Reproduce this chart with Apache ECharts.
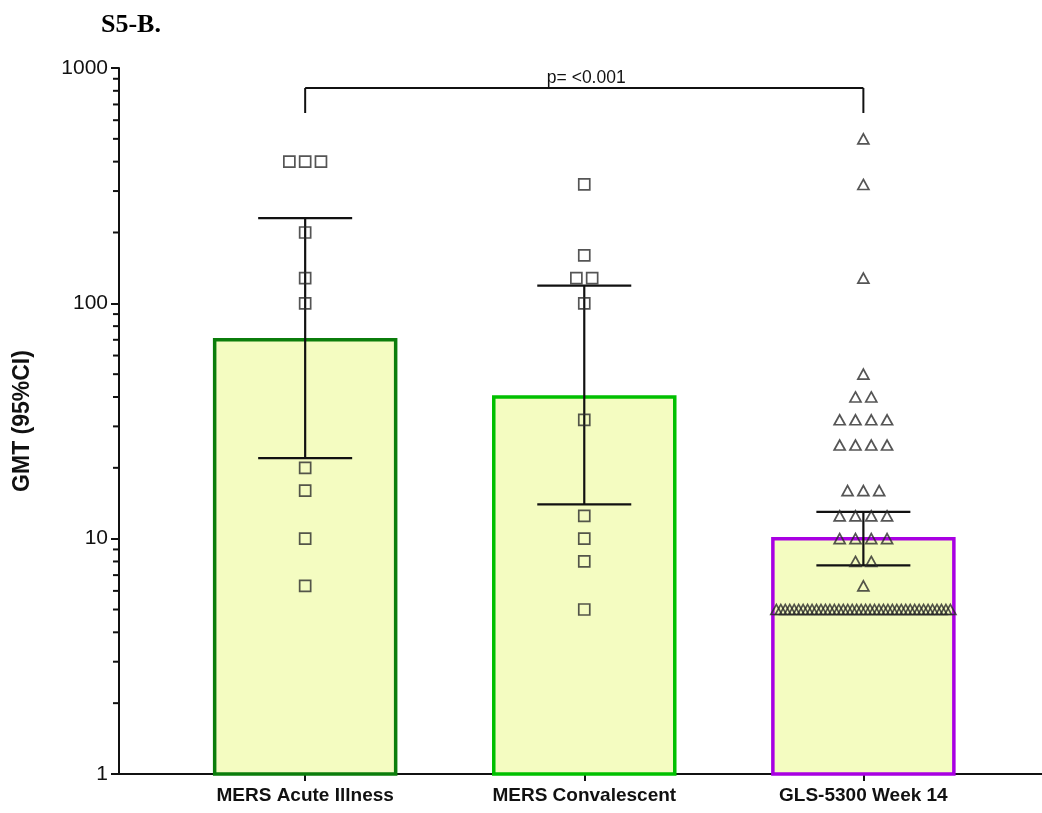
<!DOCTYPE html>
<html>
<head>
<meta charset="utf-8">
<title>S5-B. GMT (95%CI)</title>
<script src="https://cdn.jsdelivr.net/npm/echarts@6/dist/echarts.min.js"></script>
<style>
  html, body { margin: 0; padding: 0; background: #fff; }
  #chart { width: 1042px; height: 813px; }
</style>
</head>
<body>
<div id="chart"></div>
<script>
// Groups on the x axis
const categories = ['MERS Acute Illness', 'MERS Convalescent', 'GLS-5300 Week 14'];

// Geometric mean titres (bar heights) and their 95% confidence limits
const gmt = [70, 40, 10];
const ciLow = [22, 14, 7.7];
const ciHigh = [230, 119, 13];

// Individual titres per group
const acuteValues = [400, 400, 400, 200, 128, 100, 20, 16, 10, 6.3];
const convalescentValues = [320, 160, 128, 128, 100, 32, 12.5, 10, 8, 5];
const week14Values = [
  500, 320, 128, 50, 40, 40,
  32, 32, 32, 32,
  25, 25, 25, 25,
  16, 16, 16,
  12.5, 12.5, 12.5, 12.5,
  10, 10, 10, 10,
  8, 8,
  6.3,
  5, 5, 5, 5, 5, 5, 5, 5, 5, 5,
  5, 5, 5, 5, 5, 5, 5, 5, 5, 5,
  5, 5, 5, 5, 5, 5, 5, 5, 5, 5,
  5, 5, 5, 5, 5, 5, 5, 5, 5, 5
];

// Log axis tick labels and comparison annotation
const yTickLabels = ['1', '10', '100', '1000'];
const pValueText = 'p= <0.001';

const barBorderColors = ['#0b7d0b', '#00c000', '#a800e2'];
const barFill = '#f4fcc1';
const ink = '#111111';
const sansFont = '"Liberation Sans", Arial, Helvetica, sans-serif';

// Spread points sharing the same value side by side, like a column scatter
function spreadPoints(values, groupPos, symbol, size) {
  const counts = {};
  values.forEach(v => { counts[v] = (counts[v] || 0) + 1; });
  const seen = {};
  return values.map(v => {
    const n = counts[v];
    const i = seen[v] = (seen[v] === undefined ? 0 : seen[v] + 1);
    const step = n > 1 ? Math.min(15.8, 174 / (n - 1)) : 0;
    return {
      value: [groupPos, v],
      symbol: symbol,
      symbolSize: size,
      symbolOffset: [(i - (n - 1) / 2) * step, 0]
    };
  });
}

const pointData = []
  .concat(spreadPoints(acuteValues, 1, 'rect', 11))
  .concat(spreadPoints(convalescentValues, 2, 'rect', 11))
  .concat(spreadPoints(week14Values, 3, 'triangle', [11, 10]));

// Minor ticks of the log axis: 2..9 within each decade
const minorTickValues = [];
[1, 10, 100].forEach(d => {
  for (let m = 2; m <= 9; m++) minorTickValues.push(m * d);
});

const X_MIN = 0.333;
const X_MAX = 3.64;
const BAR_WIDTH = 181;
const CAP_HALF = 47;

const chart = echarts.init(document.getElementById('chart'), null, { renderer: 'canvas' });

const option = {
  backgroundColor: '#ffffff',
  animation: false,
  title: {
    text: 'S5-B.',
    left: 96,
    top: 7,
    textStyle: {
      fontFamily: '"Liberation Serif", "Times New Roman", serif',
      fontWeight: 'bold',
      fontSize: 26,
      color: '#000'
    }
  },
  grid: { left: 119, right: 0, top: 68, bottom: 39, containLabel: false },
  xAxis: {
    type: 'value',
    min: X_MIN,
    max: X_MAX,
    splitLine: { show: false },
    axisLine: { show: true, onZero: false, lineStyle: { color: ink, width: 2 } },
    axisTick: {
      show: true,
      customValues: [1, 2, 3],
      length: 7,
      inside: false,
      lineStyle: { color: ink, width: 2 }
    },
    axisLabel: {
      show: true,
      customValues: [1, 2, 3],
      margin: 12,
      color: ink,
      fontFamily: sansFont,
      fontWeight: 'bold',
      fontSize: 19,
      formatter: v => categories[Math.round(v) - 1] || ''
    }
  },
  yAxis: {
    type: 'log',
    logBase: 10,
    min: 1,
    max: 1000,
    name: 'GMT (95%CI)',
    nameLocation: 'middle',
    nameGap: 85,
    nameRotate: 90,
    nameTextStyle: {
      color: ink,
      fontFamily: sansFont,
      fontWeight: 'bold',
      fontSize: 23
    },
    splitLine: { show: false },
    axisLine: { show: true, lineStyle: { color: ink, width: 2 } },
    axisTick: { show: true, length: 8, inside: false, lineStyle: { color: ink, width: 2 } },
    axisLabel: {
      margin: 11,
      color: ink,
      fontFamily: sansFont,
      fontSize: 21,
      formatter: v => {
        const idx = Math.round(Math.log10(v));
        return yTickLabels[idx] !== undefined ? yTickLabels[idx] : '';
      }
    }
  },
  series: [
    {
      // Bars: geometric mean titre per group
      name: 'GMT',
      type: 'custom',
      z: 1,
      data: gmt.map((v, i) => [i + 1, v, i]),
      renderItem: (params, api) => {
        const x = api.value(0);
        const v = api.value(1);
        const idx = api.value(2);
        const top = api.coord([x, v]);
        const base = api.coord([x, 1]);
        return {
          type: 'rect',
          shape: {
            x: top[0] - BAR_WIDTH / 2,
            y: top[1],
            width: BAR_WIDTH,
            height: base[1] - top[1]
          },
          style: {
            fill: barFill,
            stroke: barBorderColors[idx],
            lineWidth: 3.5
          }
        };
      }
    },
    {
      // Minor ticks along the log axis
      name: 'minorTicks',
      type: 'custom',
      z: 3,
      silent: true,
      data: minorTickValues.map(v => [X_MIN, v]),
      renderItem: (params, api) => {
        const p = api.coord([api.value(0), api.value(1)]);
        return {
          type: 'line',
          shape: { x1: p[0] - 6, y1: p[1], x2: p[0], y2: p[1] },
          style: { stroke: ink, lineWidth: 2 }
        };
      }
    },
    {
      // 95% confidence interval whiskers
      name: '95% CI',
      type: 'custom',
      z: 4,
      data: ciLow.map((lo, i) => [i + 1, lo, ciHigh[i]]),
      renderItem: (params, api) => {
        const x = api.value(0);
        const lo = api.coord([x, api.value(1)]);
        const hi = api.coord([x, api.value(2)]);
        const style = { stroke: ink, lineWidth: 2.2 };
        return {
          type: 'group',
          children: [
            { type: 'line', shape: { x1: lo[0], y1: lo[1], x2: hi[0], y2: hi[1] }, style },
            { type: 'line', shape: { x1: hi[0] - CAP_HALF, y1: hi[1], x2: hi[0] + CAP_HALF, y2: hi[1] }, style },
            { type: 'line', shape: { x1: lo[0] - CAP_HALF, y1: lo[1], x2: lo[0] + CAP_HALF, y2: lo[1] }, style }
          ]
        };
      }
    },
    {
      // Individual titres
      name: 'Titres',
      type: 'scatter',
      z: 5,
      data: pointData,
      itemStyle: {
        color: 'rgba(0,0,0,0)',
        borderColor: '#2a2a2a',
        borderWidth: 1.7
      }
    },
    {
      // Comparison bracket between the first and last groups
      name: 'bracket',
      type: 'custom',
      z: 6,
      silent: true,
      data: [[1, 3, 1000]],
      renderItem: (params, api) => {
        const left = api.coord([api.value(0), api.value(2)]);
        const right = api.coord([api.value(1), api.value(2)]);
        const yLine = left[1] + 20;
        const yFoot = left[1] + 45;
        const style = { stroke: ink, lineWidth: 2 };
        return {
          type: 'group',
          children: [
            { type: 'line', shape: { x1: left[0], y1: yFoot, x2: left[0], y2: yLine }, style },
            { type: 'line', shape: { x1: left[0], y1: yLine, x2: right[0], y2: yLine }, style },
            { type: 'line', shape: { x1: right[0], y1: yLine, x2: right[0], y2: yFoot }, style },
            {
              type: 'text',
              style: {
                text: pValueText,
                x: (left[0] + right[0]) / 2 + 2,
                y: yLine - 1,
                align: 'center',
                verticalAlign: 'bottom',
                fill: ink,
                font: '17.5px ' + sansFont
              }
            }
          ]
        };
      }
    }
  ]
};

chart.setOption(option);
</script>
</body>
</html>
